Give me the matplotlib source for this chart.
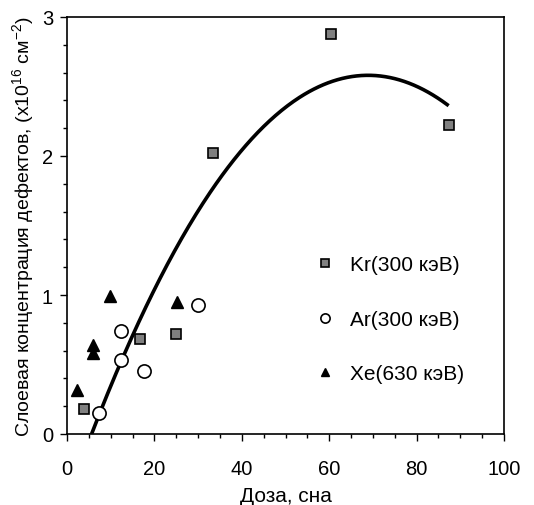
import numpy as np
import matplotlib
matplotlib.use("Agg")
import matplotlib.pyplot as plt
from matplotlib.ticker import MultipleLocator

plt.rcParams['font.family'] = ['Liberation Sans', 'DejaVu Sans']
plt.rcParams['mathtext.default'] = 'regular'

# Kr(300 keV)
kr_x = [3.9, 16.7, 24.9, 33.4, 60.3, 87.3]
kr_y = [0.18, 0.68, 0.72, 2.02, 2.88, 2.22]
# Ar(300 keV)
ar_x = [7.4, 12.3, 12.4, 17.6, 30.0]
ar_y = [0.15, 0.53, 0.74, 0.45, 0.93]
# Xe(630 keV)
xe_x = [2.4, 6.0, 6.0, 9.9, 25.2]
xe_y = [0.32, 0.64, 0.58, 0.99, 0.95]

# fitted curve
fit_x = [5.5, 10, 20, 30, 40, 50, 60, 70, 80, 87]
fit_y = [0.0, 0.33, 1.04, 1.61, 2.04, 2.35, 2.53, 2.58, 2.50, 2.37]

fig = plt.figure(figsize=(5.34, 5.06), dpi=100)
ax = fig.add_axes([67/534, 1 - 435/506, 437/534, 417/506])

c = np.polyfit(fit_x, fit_y, 2)
xs = np.linspace(fit_x[0], fit_x[-1], 300)
ax.plot(xs, np.polyval(c, xs), color='black', lw=2.6, zorder=2)

ax.plot(kr_x, kr_y, 's', ms=7.5, mfc='#808080', mec='black', mew=1.2,
        label='Kr(300 кэВ)', zorder=3)
ax.plot(ar_x, ar_y, 'o', ms=9.5, mfc='white', mec='black', mew=1.2,
        label='Ar(300 кэВ)', zorder=3)
ax.plot(xe_x, xe_y, '^', ms=8, mfc='black', mec='black',
        label='Xe(630 кэВ)', zorder=3)

ax.set_xlim(0, 100)
ax.set_ylim(0, 3)
ax.xaxis.set_major_locator(MultipleLocator(20))
ax.xaxis.set_minor_locator(MultipleLocator(5))
ax.yaxis.set_major_locator(MultipleLocator(1))
ax.yaxis.set_minor_locator(MultipleLocator(0.2))
ax.tick_params(which='both', direction='out', top=False, right=False,
               labelsize=14.5, width=1, pad=5)
ax.tick_params(axis='x', which='major', pad=13)
ax.tick_params(which='major', length=5)
ax.tick_params(which='minor', length=3)
for s in ax.spines.values():
    s.set_linewidth(1.2)

ax.set_xlabel('Доза, сна', fontsize=15, labelpad=6)
ax.set_ylabel('Слоевая концентрация дефектов, (х10$^{16}$ см$^{-2}$)',
              fontsize=14, labelpad=4)

ax.legend(loc='center left', bbox_to_anchor=(0.52, 0.275), frameon=False,
          fontsize=15, markerscale=0.7, labelspacing=1.7, handlelength=1.2,
          handletextpad=0.6)

fig.savefig('out.png', dpi=100)
